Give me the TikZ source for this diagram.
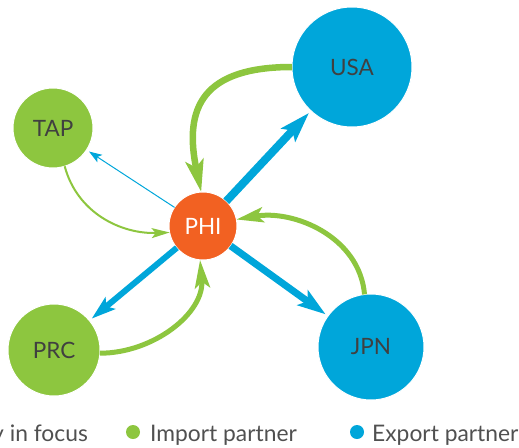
\documentclass[tikz,border=0pt]{standalone}
\usepackage{fontspec}
\setmainfont{Lato}
\usetikzlibrary{arrows.meta}
\definecolor{cgreen}{HTML}{8DC63F}
\definecolor{cblue}{HTML}{00A6DA}
\definecolor{corange}{HTML}{F26122}
\definecolor{ctext}{HTML}{404040}
\definecolor{clegend}{HTML}{505050}
\begin{document}
\begin{tikzpicture}[x=1pt,y=1pt,
  country/.style={circle, draw=white, line width=1pt, inner sep=0pt, outer sep=0pt,
    text=ctext, font=\fontsize{22.5}{26}\selectfont},
  exparrow/.style={draw=cblue, shorten >=3pt},
  imparrow/.style={draw=cgreen},
  legendtext/.style={anchor=base west, inner sep=0pt, text=clegend, font=\fontsize{22.8}{26}\selectfont},
  dot/.style={circle, inner sep=0pt, minimum size=14pt}
]
\useasboundingbox (0,0) rectangle (519,-447);
\clip (0,0) rectangle (519,-447);

% countries
\node[country, fill=cblue, minimum size=120pt] (usa) at (352,-67) {USA};
\node[country, fill=cgreen, minimum size=80pt] (tap) at (53,-128) {TAP};
\node[country, fill=corange, minimum size=68pt, text=white] (phi) at (203,-226) {PHI};
\node[country, fill=cgreen, minimum size=92pt] (prc) at (54,-350) {PRC};
\node[country, fill=cblue, minimum size=106pt] (jpn) at (371,-347) {JPN};

% export arrows (blue)
\draw[exparrow, line width=8pt, -{Stealth[length=30pt,width=19pt,inset=6pt]}] (phi) -- (usa);
\draw[exparrow, line width=7pt, -{Stealth[length=28pt,width=18pt,inset=6pt]}] (phi) -- (jpn);
\draw[exparrow, line width=6pt, -{Stealth[length=24pt,width=15pt,inset=5pt]}] (phi) -- (prc);
\draw[exparrow, line width=1pt, -{Stealth[length=13pt,width=9pt,inset=3pt]}] (phi) -- (tap);

% import arrows (green)
\draw[imparrow, line width=6.5pt, -{Stealth[length=32pt,width=18pt,inset=7pt]}]
  (usa.west) to[out=180, in=102, looseness=1.45] (phi.93);
\draw[imparrow, line width=5pt, -{Stealth[length=27pt,width=15pt,inset=6pt]}]
  (jpn.97) to[out=95, in=10] (phi.11);
\draw[imparrow, line width=5pt, -{Stealth[length=28pt,width=15pt,inset=6pt]}]
  (prc.356) to[out=0, in=-85] (phi.265);
\draw[imparrow, line width=2pt, -{Stealth[length=18pt,width=10pt,inset=4pt]}]
  (tap.287) to[out=-75, in=182] (phi.191);

% legend
\node[legendtext, anchor=base east] (focus) at (88,-441) {Country in focus};
\node[dot, fill=cgreen] (impdot) at (133,-432) {};
\node[legendtext] (imptext) at (150,-441) {Import partner};
\node[dot, fill=cblue] (expdot) at (357,-432) {};
\node[legendtext] (exptext) at (372,-441) {Export partner};
\end{tikzpicture}
\end{document}
